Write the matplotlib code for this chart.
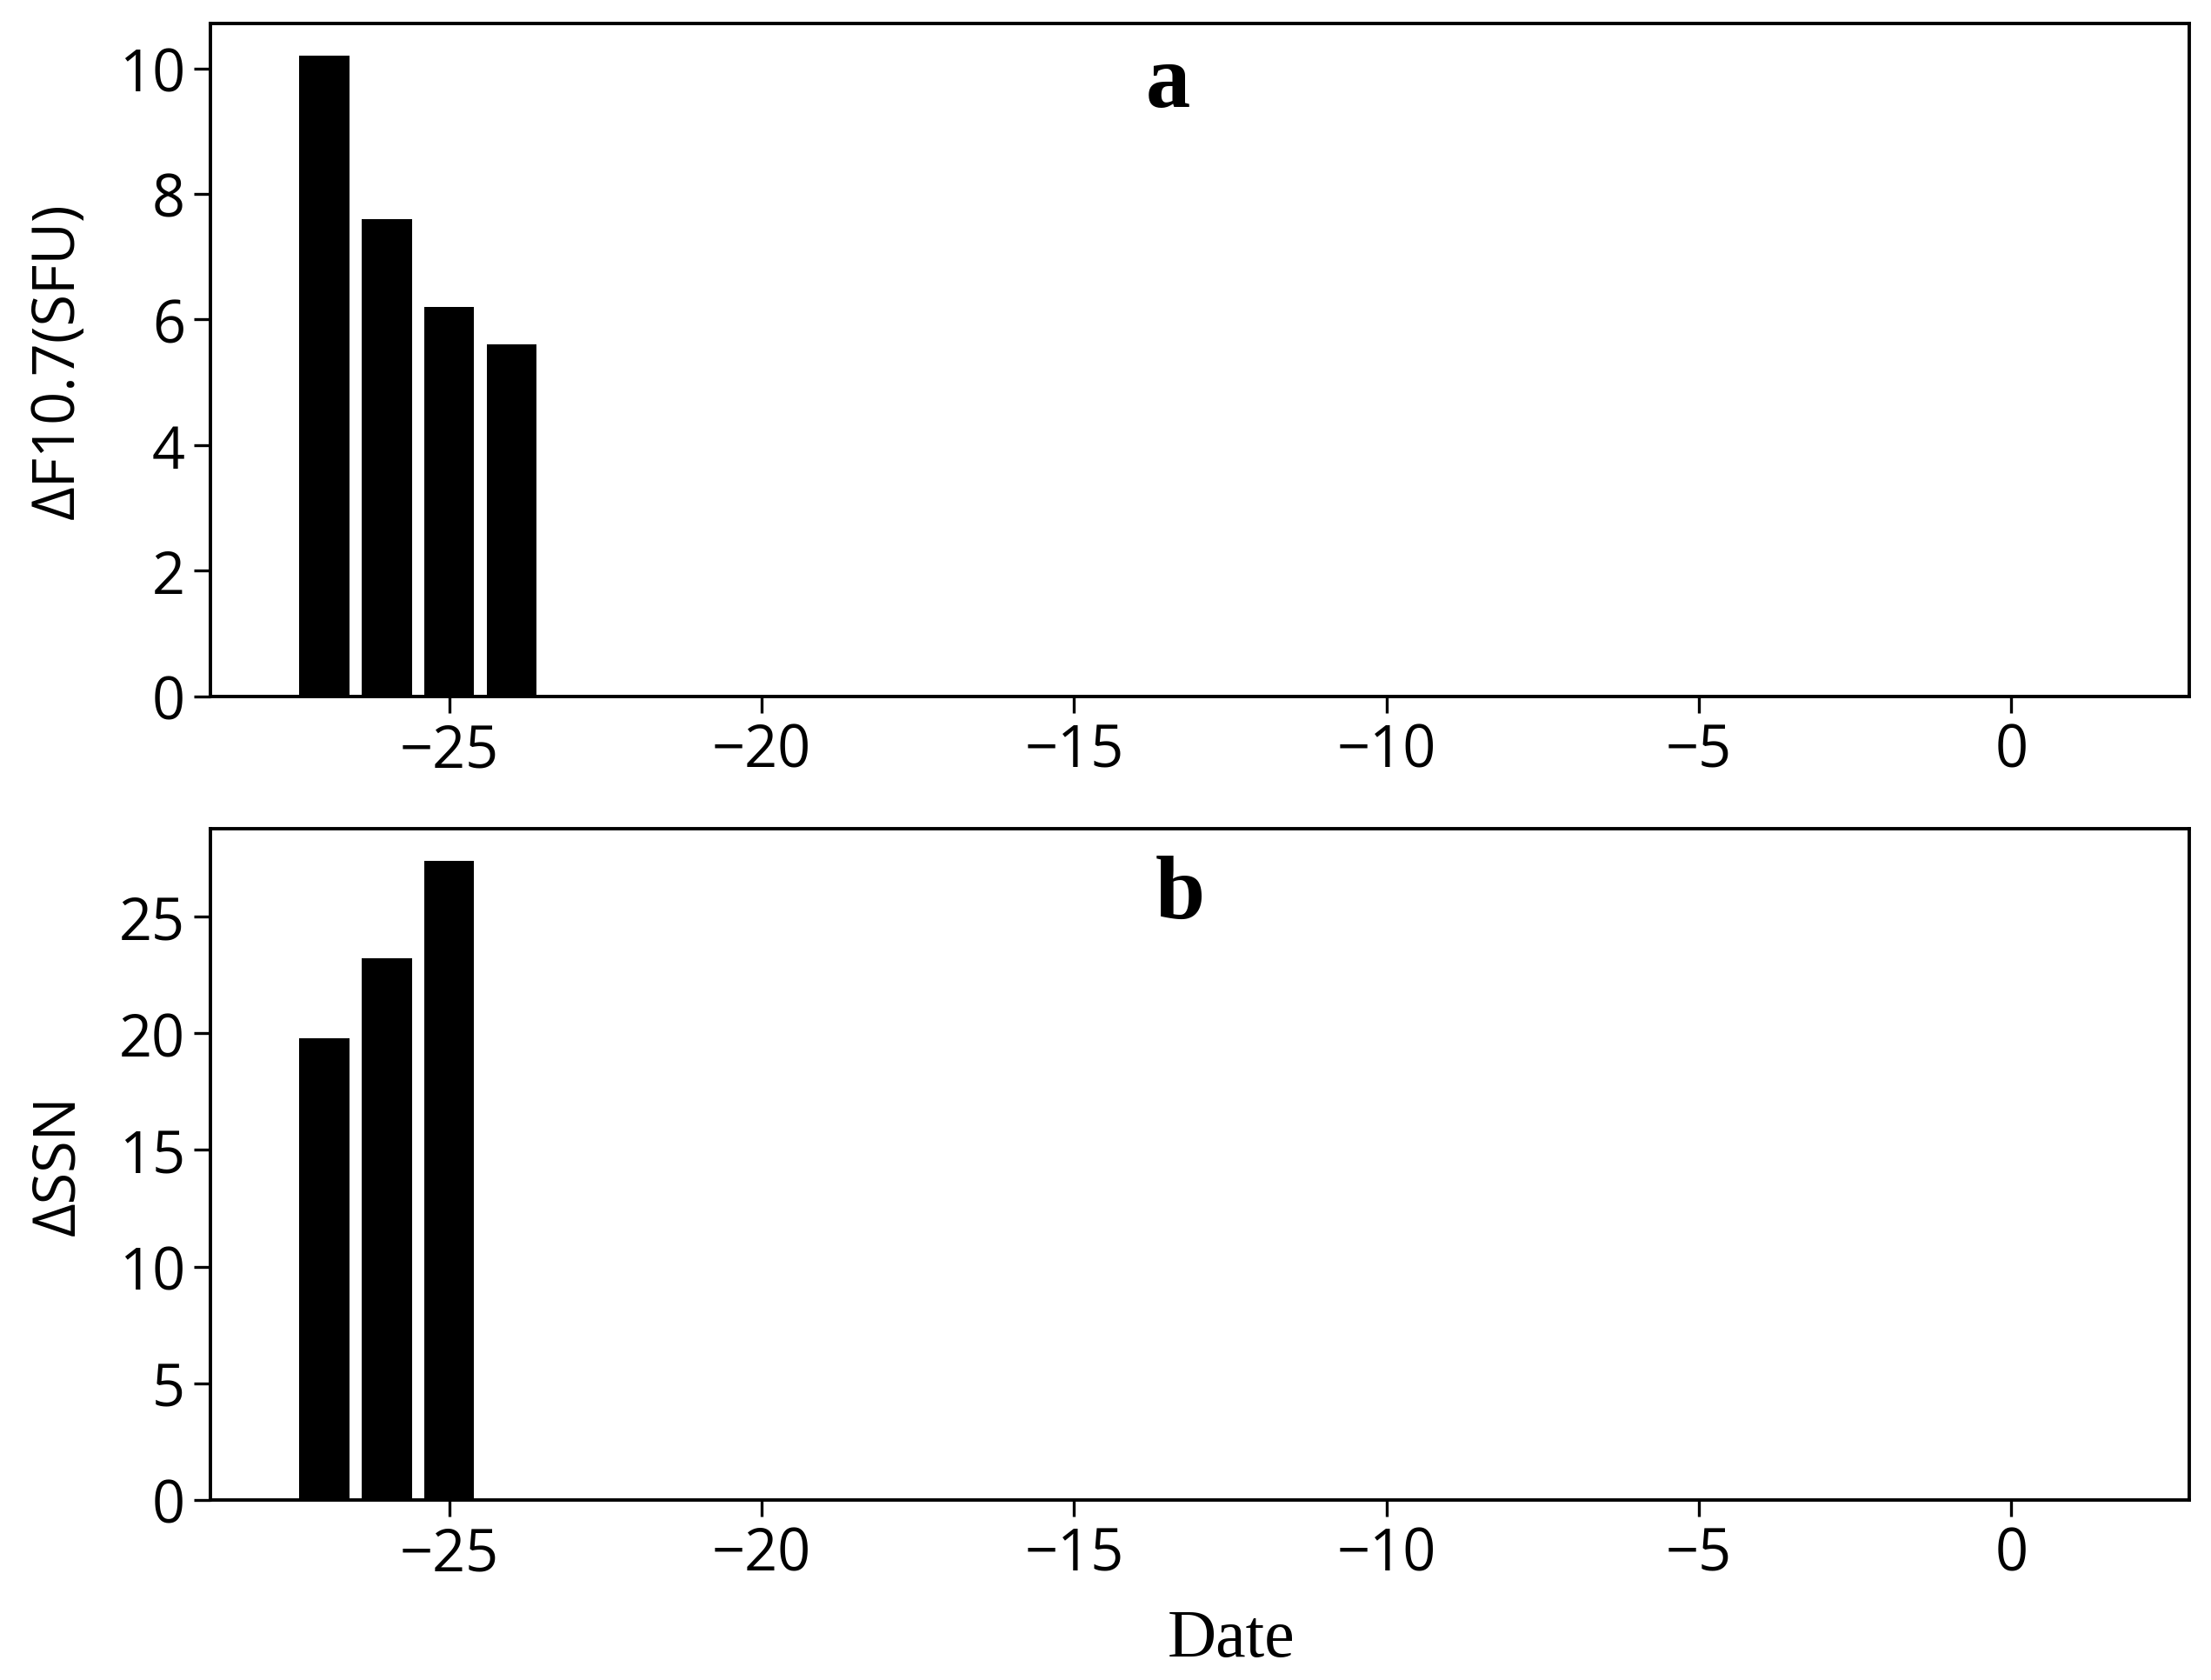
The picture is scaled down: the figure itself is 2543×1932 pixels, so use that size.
import matplotlib
matplotlib.use("Agg")
import matplotlib.pyplot as plt

# days relative to event, and the changes seen on those days
F107_DAYS = [-27, -26, -25, -24]
F107_DELTA = [10.2, 7.6, 6.2, 5.6]
SSN_DAYS = [-27, -26, -25]
SSN_DELTA = [19.8, 23.2, 27.4]

X_TICKS = [-25, -20, -15, -10, -5, 0]

plt.rcParams["font.family"] = ["Open Sans", "DejaVu Sans"]
plt.rcParams["axes.linewidth"] = 1.4


def style_axis(ax, ylabel):
    ax.set_xlim(-28.82, 2.85)
    ax.set_xticks(X_TICKS)
    ax.tick_params(labelsize=24, length=7, width=1.2)
    ax.set_ylabel(ylabel, fontsize=24)
    ax.yaxis.set_label_coords(-0.062, 0.5)


def main():
    fig = plt.figure(figsize=(2543 / 200, 1933 / 200), dpi=200)
    ax1 = fig.add_axes([0.0952, 0.5853, 0.895, 0.400])
    ax2 = fig.add_axes([0.0952, 0.1071, 0.895, 0.3994])

    ax1.bar(F107_DAYS, F107_DELTA, width=0.8, color="black")
    style_axis(ax1, "ΔF10.7(SFU)")
    ax1.set_yticks([0, 2, 4, 6, 8, 10])
    ax1.text(0.484, 0.91, "a", transform=ax1.transAxes, ha="center", va="center",
             fontsize=37, fontweight="bold", family="Liberation Serif")

    ax2.bar(SSN_DAYS, SSN_DELTA, width=0.8, color="black")
    style_axis(ax2, "ΔSSN")
    ax2.set_yticks([0, 5, 10, 15, 20, 25])
    ax2.text(0.490, 0.90, "b", transform=ax2.transAxes, ha="center", va="center",
             fontsize=37, fontweight="bold", family="Liberation Serif")

    fig.text(0.557, 0.024, "Date", ha="center", va="center", fontsize=28,
             family="Liberation Serif")

    fig.savefig("out.png", dpi=200)
    plt.close(fig)


if __name__ == "__main__":
    main()
